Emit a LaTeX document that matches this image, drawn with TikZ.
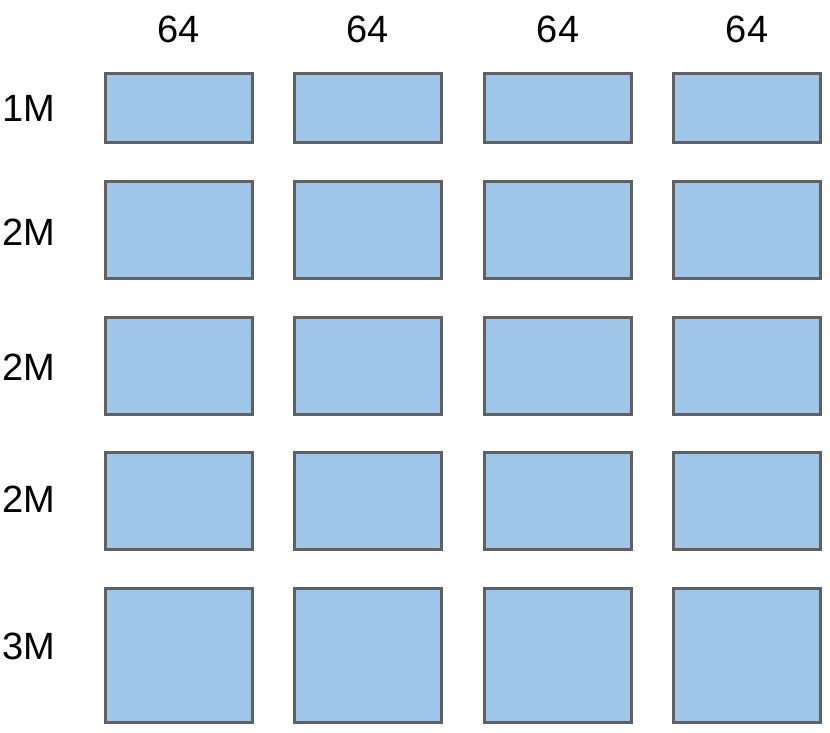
\documentclass[tikz,border=0pt]{standalone}
\usepackage{fontspec}
\setmainfont{Liberation Sans}
\usetikzlibrary{positioning}
\definecolor{cellblue}{RGB}{159,197,232}
\definecolor{cellgray}{RGB}{96,96,96}

\begin{document}
\begin{tikzpicture}[x=1pt,y=-1pt,
    cell/.style={draw=cellgray,fill=cellblue,line width=3pt,minimum width=147pt,inner sep=0pt},
    label/.style={font=\fontsize{38}{40}\selectfont,inner sep=0pt}]
        \useasboundingbox (0,0) rectangle (830,733);
        % column widths
        \foreach \x [count=\c] in {179,368,558,747} \node[label] (w\c) at (\x,29) {64};
        % rows: centre / height / label position / label
        \foreach \y/\h/\t/\m [count=\r] in {108/72/108/1M,230/100/232/2M,366/100/367/2M,501/100/499/2M,655.5/137/646/3M} {
          \node[label] (m\r) at (29,\t) {\m};
          \foreach \x [count=\c] in {179,368,558,747}
            \node[cell,minimum height=\h pt-3pt] (b\r\c) at (\x,\y) {};
        }
      \end{tikzpicture}
\end{document}
